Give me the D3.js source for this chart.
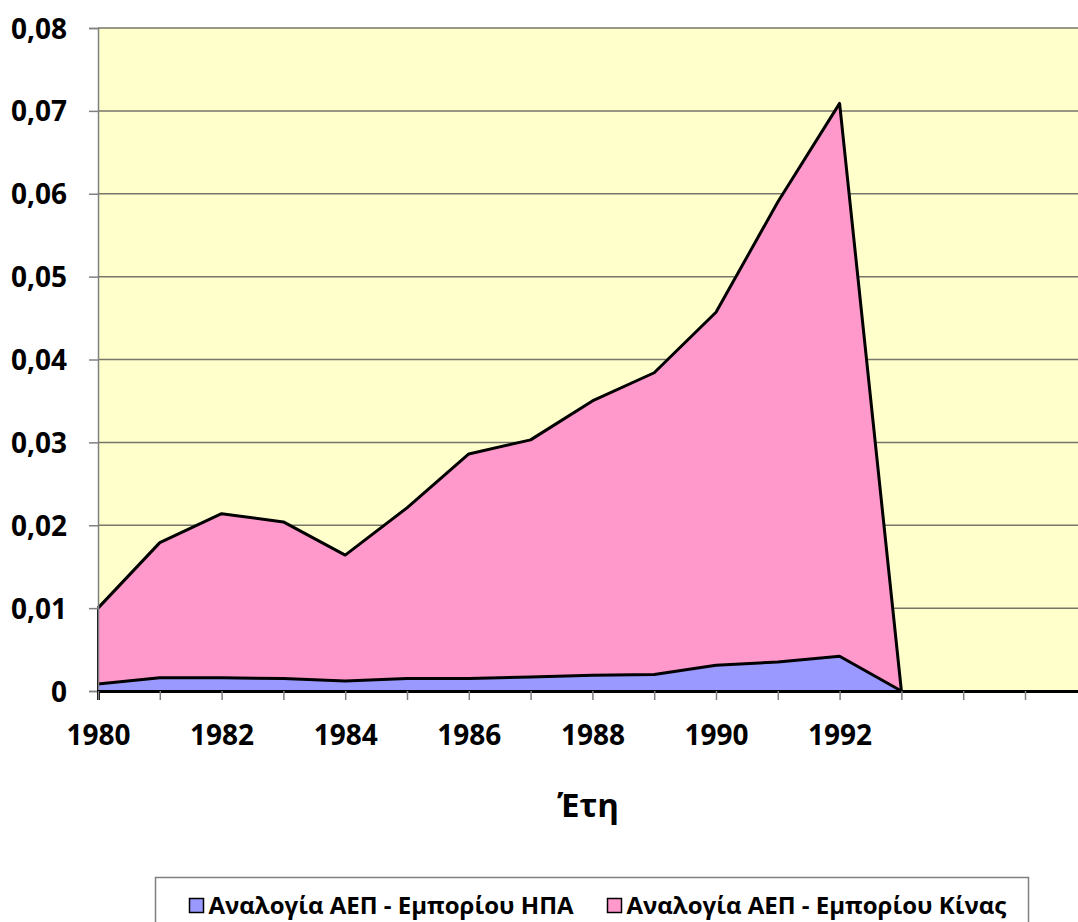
<!DOCTYPE html>
<html>
<head>
<meta charset="utf-8">
<script src="https://cdn.jsdelivr.net/npm/d3@7"></script>
<style>
  body { margin: 0; background: #fff; }
  svg { display: block; }
  text { font-family: "Open Sans", "Noto Sans", sans-serif; font-weight: bold; fill: #000; }
</style>
</head>
<body>
<svg width="1078" height="922"></svg>
<script>
const years = [1980, 1981, 1982, 1983, 1984, 1985, 1986, 1987, 1988, 1989, 1990, 1991, 1992, 1993];
const usa   = [0.00085, 0.0016, 0.0016, 0.0015, 0.0012, 0.0015, 0.0015, 0.0017, 0.0019, 0.0020, 0.0031, 0.0035, 0.0042, 0];
const china = [0.00915, 0.0163, 0.0198, 0.0189, 0.0152, 0.0206, 0.0271, 0.0286, 0.0331, 0.0364, 0.0426, 0.0555, 0.0667, 0];
const seriesNames = ['Αναλογία ΑΕΠ - Εμπορίου ΗΠΑ', 'Αναλογία ΑΕΠ - Εμπορίου Κίνας'];
const seriesColors = ['#9999ff', '#ff99cc'];
const yTicks = [0, 0.01, 0.02, 0.03, 0.04, 0.05, 0.06, 0.07, 0.08];
const xLabels = [1980, 1982, 1984, 1986, 1988, 1990, 1992];
const xTitle = 'Έτη';

const svg = d3.select('svg');
const mLeft = 98, mTop = 28, mBottom = 691;

const x = d3.scaleLinear().domain([1980, 1996]).range([mLeft, mLeft + 16 * 61.8]);
const y = d3.scaleLinear().domain([0, 0.08]).range([mBottom, mTop]);
const fmt = d => d === 0 ? '0' : d3.format('.2f')(d).replace('.', ',');

// plot background
svg.append('rect')
  .attr('x', mLeft).attr('y', mTop)
  .attr('width', x(1996) - mLeft).attr('height', mBottom - mTop)
  .attr('fill', '#ffffcc');

// grid lines
svg.append('g').selectAll('line')
  .data(yTicks.filter(d => d > 0))
  .join('line')
    .attr('x1', mLeft).attr('x2', x(1996))
    .attr('y1', d => y(d)).attr('y2', d => y(d))
    .attr('stroke', '#76766a').attr('stroke-width', 1.5);

// stacked areas
const rows = years.map((yr, i) => ({year: yr, usa: usa[i], china: china[i]}));
const stack = d3.stack().keys(['usa', 'china'])(rows);
const area = d3.area()
  .x(d => x(d.data.year))
  .y0(d => y(d[0]))
  .y1(d => y(d[1]));
const topLine = d3.line()
  .x(d => x(d.data.year))
  .y(d => y(d[1]));

svg.append('g').selectAll('path')
  .data(stack)
  .join('path')
    .attr('d', area)
    .attr('fill', (d, i) => seriesColors[i]);

svg.append('g').selectAll('path')
  .data(stack)
  .join('path')
    .attr('d', d => topLine(d))
    .attr('fill', 'none')
    .attr('stroke', '#000')
    .attr('stroke-width', 3)
    .attr('stroke-linejoin', 'round');

// left edge of china area
svg.append('line')
  .attr('x1', mLeft).attr('x2', mLeft)
  .attr('y1', y(usa[0] + china[0])).attr('y2', mBottom)
  .attr('stroke', '#000').attr('stroke-width', 2);

// y axis
const yAxis = svg.append('g')
  .attr('transform', `translate(${mLeft},0)`)
  .call(d3.axisLeft(y).tickValues(yTicks).tickSize(9).tickPadding(22).tickFormat(fmt));
yAxis.select('.domain').attr('stroke', '#808080').attr('stroke-width', 1.5);
yAxis.selectAll('.tick line').attr('stroke', '#808080').attr('stroke-width', 1.5);
yAxis.selectAll('.tick text').style('font-size', '28px').attr('dy', '0.36em');

// x axis
const xAxis = svg.append('g')
  .attr('transform', `translate(0,${mBottom})`)
  .call(d3.axisBottom(x).tickValues(d3.range(1980, 1997)).tickSize(9).tickPadding(25)
    .tickFormat(d => xLabels.includes(d) ? d : ''));
xAxis.select('.domain').attr('stroke', '#000').attr('stroke-width', 3);
xAxis.selectAll('.tick line').attr('stroke', '#808080').attr('stroke-width', 1.5);
xAxis.selectAll('.tick text').style('font-size', '28px');

svg.append('text')
  .attr('x', 588).attr('y', 817)
  .attr('text-anchor', 'middle')
  .style('font-size', '33px')
  .text(xTitle);

// legend
const lg = svg.append('g');
lg.append('rect')
  .attr('x', 155.5).attr('y', 877.5)
  .attr('width', 873).attr('height', 60)
  .attr('fill', '#fff').attr('stroke', '#808080').attr('stroke-width', 1.5);
const legendX = [189.5, 607.5];
seriesNames.forEach((name, i) => {
  lg.append('rect')
    .attr('x', legendX[i]).attr('y', 898.5)
    .attr('width', 14).attr('height', 14)
    .attr('fill', seriesColors[i]).attr('stroke', '#000').attr('stroke-width', 1.5);
  lg.append('text')
    .attr('x', legendX[i] + 19).attr('y', 914)
    .style('font-size', '24px')
    .text(name);
});
</script>
</body>
</html>
